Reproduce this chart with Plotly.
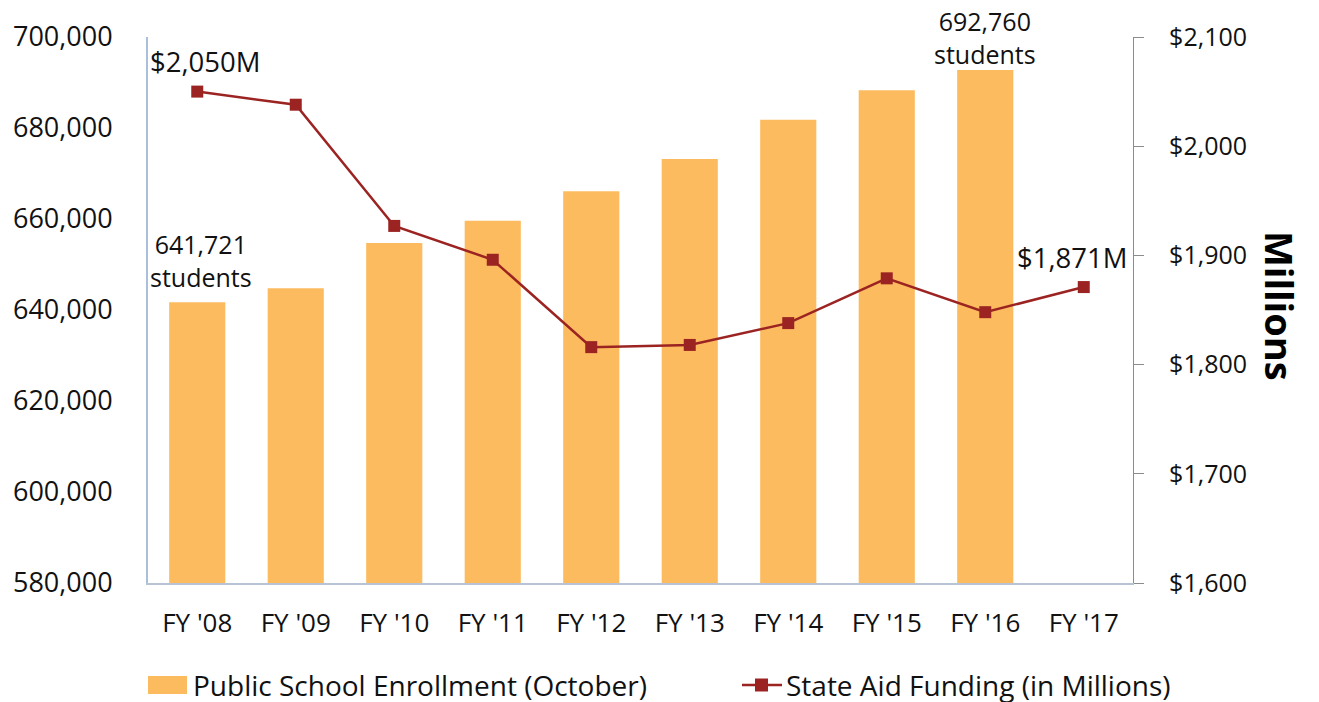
import plotly.graph_objects as go

categories = ["FY '08", "FY '09", "FY '10", "FY '11", "FY '12", "FY '13", "FY '14", "FY '15", "FY '16", "FY '17"]
enrollment = [641721, 644800, 654700, 659600, 666100, 673200, 681800, 688300, 692760, None]
state_aid = [2050, 2038, 1927, 1896, 1816, 1818, 1838, 1879, 1848, 1871]
left_ticks = [580000, 600000, 620000, 640000, 660000, 680000, 700000]
right_ticks = [1600, 1700, 1800, 1900, 2000, 2100]
right_tick_text = ["$1,600", "$1,700", "$1,800", "$1,900", "$2,000", "$2,100"]
legend_names = ["Public School Enrollment (October)", "State Aid Funding (in Millions)"]

FONT = "Open Sans"
BAR_COLOR = "#FDBB5F"
LINE_COLOR = "#9B2422"
TEXT_COLOR = "#111111"

fig = go.Figure()
fig.add_trace(go.Bar(
    x=categories, y=enrollment, name=legend_names[0],
    marker=dict(color=BAR_COLOR, line=dict(width=0)), width=0.57, yaxis="y",
))
fig.add_trace(go.Scatter(
    x=categories, y=state_aid, name=legend_names[1],
    mode="lines+markers", yaxis="y2",
    line=dict(color=LINE_COLOR, width=2.5),
    marker=dict(symbol="square", size=12, color=LINE_COLOR),
))

# Plot area in figure pixels: x 140..1125, y 29..575 (page has an 8px body margin)
W, H = 1311, 694
L, R, T, B = 140, 186, 29, 119
PW, PH = W - L - R, H - T - B
LEG_Y = 677


def px_x(px):
    return (px - L) / PW


def px_y(py):
    return (H - B - py) / PH


shapes = [
    # legend: bar swatch
    dict(type="rect", xref="paper", yref="paper",
         x0=px_x(140), x1=px_x(179), y0=px_y(LEG_Y + 9), y1=px_y(LEG_Y - 9),
         fillcolor=BAR_COLOR, line=dict(width=0)),
    # legend: line swatch
    dict(type="line", xref="paper", yref="paper",
         x0=px_x(734), x1=px_x(774), y0=px_y(LEG_Y), y1=px_y(LEG_Y),
         line=dict(color=LINE_COLOR, width=2.5)),
    dict(type="rect", xref="paper", yref="paper",
         x0=px_x(747), x1=px_x(760), y0=px_y(LEG_Y + 6.5), y1=px_y(LEG_Y - 6.5),
         fillcolor=LINE_COLOR, line=dict(width=0)),
]

annotations = [
    dict(text="$2,050M", x=0, xref="paper", xanchor="left", y=state_aid[0], yref="y2",
         yshift=30, showarrow=False, font=dict(family=FONT, size=27.5, color=TEXT_COLOR)),
    dict(text="641,721<br>students", x=categories[0], xref="x", y=enrollment[0], yref="y",
         yanchor="bottom", xshift=4, yshift=6, showarrow=False,
         font=dict(family=FONT, size=25, color=TEXT_COLOR)),
    dict(text="692,760<br>students", x=categories[8], xref="x", y=enrollment[8], yref="y",
         yanchor="bottom", yshift=-3, showarrow=False,
         font=dict(family=FONT, size=25, color=TEXT_COLOR)),
    dict(text="$1,871M", x=categories[9], xref="x", y=state_aid[9], yref="y2",
         xshift=-12, yshift=30, showarrow=False,
         font=dict(family=FONT, size=27.5, color=TEXT_COLOR)),
    dict(text="<b>Millions</b>", x=1.0, xref="paper", xanchor="center", xshift=147,
         y=0.5, yref="paper", yshift=4, textangle=90, showarrow=False,
         font=dict(family=FONT, size=38, color="#000000")),
    dict(text=legend_names[0], x=px_x(183), xref="paper", xanchor="left",
         y=px_y(LEG_Y), yref="paper", yanchor="middle", showarrow=False,
         font=dict(family=FONT, size=28, color=TEXT_COLOR)),
    dict(text=legend_names[1], x=px_x(776), xref="paper", xanchor="left",
         y=px_y(LEG_Y), yref="paper", yanchor="middle", showarrow=False,
         font=dict(family=FONT, size=28, color=TEXT_COLOR)),
]

fig.update_layout(
    width=W, height=H,
    margin=dict(l=L, r=R, t=T, b=B, autoexpand=False),
    paper_bgcolor="white", plot_bgcolor="white",
    font=dict(family=FONT, size=26, color=TEXT_COLOR),
    showlegend=False,
    xaxis=dict(
        range=[-0.5, 9.5], showgrid=False, showline=True, linecolor="#B8C4D6", linewidth=1.5,
        ticks="", tickfont=dict(family=FONT, size=26, color=TEXT_COLOR), ticklabelstandoff=16,
    ),
    yaxis=dict(
        range=[580000, 700000], tickvals=left_ticks, tickformat=",d",
        showgrid=False, showline=True, linecolor="#A9BFDB", linewidth=2, zeroline=False,
        ticks="", tickfont=dict(family=FONT, size=27, color=TEXT_COLOR), ticklabelstandoff=28,
    ),
    yaxis2=dict(
        range=[1600, 2100], tickvals=right_ticks, ticktext=right_tick_text,
        overlaying="y", side="right",
        showgrid=False, showline=True, linecolor="#8C8C8C", linewidth=1.2, zeroline=False,
        ticks="outside", ticklen=10, tickcolor="#8C8C8C", tickwidth=1.2,
        tickfont=dict(family=FONT, size=25, color=TEXT_COLOR), ticklabelstandoff=20,
    ),
    shapes=shapes,
    annotations=annotations,
)

fig.write_html("out.html")
